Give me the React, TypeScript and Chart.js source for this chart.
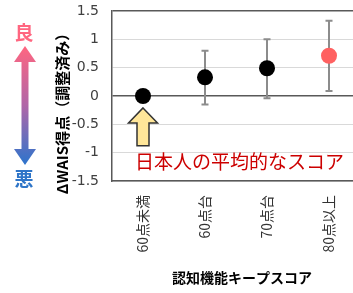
import React, { useEffect, useRef } from "react";
import { Chart, registerables } from "chart.js";
Chart.register(...registerables);

const categories = ["60点未満", "60点台", "70点台", "80点以上"];
const means = [0, 0.33, 0.49, 0.71];
const errLow: (number | null)[] = [null, -0.15, -0.04, 0.09];
const errHigh: (number | null)[] = [null, 0.8, 1.0, 1.33];
const pointColors = ["#000000", "#000000", "#000000", "#FF6161"];
const yTicks = [-1.5, -1, -0.5, 0, 0.5, 1, 1.5];
const yTitle = "ΔWAIS得点（調整済み）";
const xTitle = "認知機能キープスコア";
const noteText = "日本人の平均的なスコア";
const goodLabel = "良";
const badLabel = "悪";

const CJK = '"Noto Sans CJK JP", "Noto Sans", sans-serif';

const deco = {
  id: "deco",
  beforeDatasetsDraw(chart: any) {
    const { ctx, scales } = chart;
    const x = scales.x;
    const y = scales.y;
    ctx.save();
    ctx.strokeStyle = "#8C8C8C";
    ctx.lineWidth = 2;
    means.forEach((_m, i) => {
      const lo = errLow[i];
      const hi = errHigh[i];
      if (lo == null || hi == null) return;
      const px = x.getPixelForValue(i);
      const yl = y.getPixelForValue(lo);
      const yh = y.getPixelForValue(hi);
      ctx.beginPath();
      ctx.moveTo(px, yl);
      ctx.lineTo(px, yh);
      ctx.moveTo(px - 3.5, yl);
      ctx.lineTo(px + 3.5, yl);
      ctx.moveTo(px - 3.5, yh);
      ctx.lineTo(px + 3.5, yh);
      ctx.stroke();
    });
    ctx.restore();
  },
  afterDraw(chart: any) {
    const { ctx, scales } = chart;
    const x = scales.x;
    const y = scales.y;
    ctx.save();

    // y title
    ctx.save();
    ctx.translate(62, 110);
    ctx.rotate(-Math.PI / 2);
    ctx.font = `bold 15px ${CJK}`;
    ctx.fillStyle = "#000";
    ctx.textAlign = "center";
    ctx.textBaseline = "middle";
    ctx.fillText(yTitle, 0, 0);
    ctx.restore();

    // x title
    ctx.font = `bold 14px ${CJK}`;
    ctx.fillStyle = "#000";
    ctx.textAlign = "center";
    ctx.textBaseline = "middle";
    ctx.fillText(xTitle, 242, 278);

    // good / bad arrow
    const ax = 25;
    const top = 46;
    const bot = 165;
    const headH = 16;
    const headW = 11;
    const shaftW = 3.5;
    const grad = ctx.createLinearGradient(0, top, 0, bot);
    grad.addColorStop(0, "#FF6680");
    grad.addColorStop(0.5, "#B066A8");
    grad.addColorStop(1, "#2C74CC");
    ctx.fillStyle = grad;
    ctx.beginPath();
    ctx.moveTo(ax, top);
    ctx.lineTo(ax + headW, top + headH);
    ctx.lineTo(ax + shaftW, top + headH);
    ctx.lineTo(ax + shaftW, bot - headH);
    ctx.lineTo(ax + headW, bot - headH);
    ctx.lineTo(ax, bot);
    ctx.lineTo(ax - headW, bot - headH);
    ctx.lineTo(ax - shaftW, bot - headH);
    ctx.lineTo(ax - shaftW, top + headH);
    ctx.lineTo(ax - headW, top + headH);
    ctx.closePath();
    ctx.fill();

    ctx.font = `bold 19px ${CJK}`;
    ctx.textAlign = "center";
    ctx.textBaseline = "middle";
    ctx.fillStyle = "#FF6680";
    ctx.fillText(goodLabel, 24, 33);
    ctx.fillStyle = "#2E75C8";
    ctx.fillText(badLabel, 24, 179);

    // yellow up arrow under reference point
    const cx = x.getPixelForValue(0);
    const tipY = y.getPixelForValue(-0.21);
    const baseY = y.getPixelForValue(-0.88);
    const hH = 15;
    const hW = 14.5;
    const sW = 6;
    ctx.beginPath();
    ctx.moveTo(cx, tipY);
    ctx.lineTo(cx + hW, tipY + hH);
    ctx.lineTo(cx + sW, tipY + hH);
    ctx.lineTo(cx + sW, baseY);
    ctx.lineTo(cx - sW, baseY);
    ctx.lineTo(cx - sW, tipY + hH);
    ctx.lineTo(cx - hW, tipY + hH);
    ctx.closePath();
    ctx.fillStyle = "#FFE699";
    ctx.fill();
    ctx.lineWidth = 1.5;
    ctx.strokeStyle = "#333333";
    ctx.stroke();

    // note text
    ctx.font = `19px ${CJK}`;
    ctx.fillStyle = "#CC0000";
    ctx.textAlign = "left";
    ctx.textBaseline = "middle";
    ctx.fillText(noteText, cx - 8, y.getPixelForValue(-1.16));

    ctx.restore();
  },
};

export default function App() {
  const ref = useRef<HTMLCanvasElement>(null);
  useEffect(() => {
    if (!ref.current) return;
    const chart = new Chart(ref.current, {
      type: "line",
      data: {
        labels: categories,
        datasets: [
          {
            data: means,
            showLine: false,
            pointRadius: 8,
            pointHoverRadius: 8,
            pointBackgroundColor: pointColors,
            pointBorderColor: pointColors,
            pointBorderWidth: 0,
          },
        ],
      },
      options: {
        animation: false,
        responsive: false,
        devicePixelRatio: 1,
        events: [],
        layout: { padding: { left: 0, top: 11, right: 12, bottom: 0 } },
        plugins: { legend: { display: false }, tooltip: { enabled: false } },
        scales: {
          x: {
            type: "category",
            offset: true,
            grid: { display: false, drawTicks: false },
            border: { display: true, color: "#595959", width: 1.5 },
            ticks: {
              autoSkip: false,
              maxRotation: 90,
              minRotation: 90,
              padding: 14,
              color: "#333333",
              font: { size: 14, family: CJK },
            },
            title: { display: false },
            afterFit(s: any) {
              s.height = 112;
              s.paddingLeft = 0;
              s.paddingRight = 0;
            },
          },
          y: {
            min: -1.5,
            max: 1.5,
            afterBuildTicks(s: any) {
              s.ticks = yTicks.map((v) => ({ value: v }));
            },
            grid: {
              drawTicks: false,
              color: (c: any) =>
                c.tick && (c.tick.value === 0 || c.tick.value === 1.5) ? "#595959" : "#D9D9D9",
              lineWidth: (c: any) =>
                c.tick && (c.tick.value === 0 || c.tick.value === 1.5) ? 1.5 : 1,
            },
            border: { display: true, color: "#595959", width: 1.5 },
            ticks: {
              padding: 13,
              color: "#404040",
              font: { size: 14, family: '"DejaVu Sans", sans-serif' },
              callback: (v: any) => String(v),
            },
            afterFit(s: any) {
              s.width = 112;
              s.paddingTop = 0;
              s.paddingBottom = 0;
            },
          },
        },
      },
      plugins: [deco],
    } as any);
    return () => chart.destroy();
  }, []);
  return (
    <div
      style={{
        position: "fixed",
        left: 0,
        top: 0,
        width: 353,
        height: 293,
        overflow: "hidden",
        background: "#fff",
      }}
    >
      <canvas ref={ref} width={372} height={293} style={{ display: "block", width: 372, height: 293 }} />
    </div>
  );
}
